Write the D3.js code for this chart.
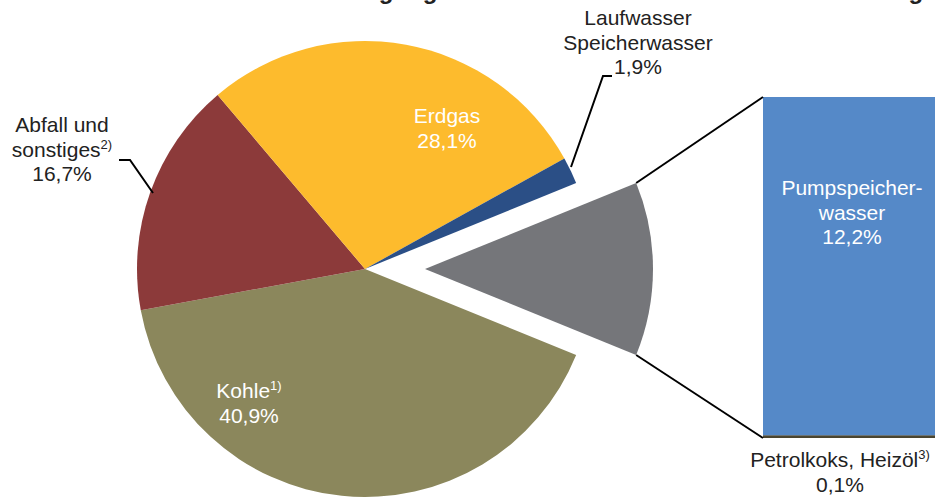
<!DOCTYPE html>
<html>
<head>
<meta charset="utf-8">
<script src="https://cdn.jsdelivr.net/npm/d3@7/dist/d3.min.js"></script>
<style>
  html, body { margin: 0; padding: 0; background: #fff; }
  svg { display: block; }
  text { font-family: "Liberation Sans", Arial, sans-serif; }
</style>
</head>
<body>
<svg id="chart" width="935" height="498"></svg>
<script>
// ---- data ----
const pieCategories = ["Pumpspeicherwasser / Petrolkoks, Heizöl", "Kohle", "Abfall und sonstiges", "Erdgas", "Laufwasser Speicherwasser"];
const pieValues = [12.3, 40.9, 16.7, 28.1, 1.9];
const pieColors = ["#75767a", "#8b875c", "#8c3a3a", "#fdbb2d", "#2b4f86"];
const barCategories = ["Petrolkoks, Heizöl", "Pumpspeicherwasser"];
const barValues = [0.1, 12.2];
const barColors = ["#4a4530", "#5589c8"];
const titleText = "Anteile an der Erzeugung der Kraftwerke mit über 100 MW Leistung";

// ---- layout ----
const svg = d3.select("#chart");
const cx = 365, cy = 269, R = 228, explode = 60;
const total = d3.sum(pieValues);
const grayAngle = pieValues[0] / total * 2 * Math.PI;
const start = Math.PI / 2 - grayAngle / 2;

const pie = d3.pie().sort(null).value(d => d).startAngle(start).endAngle(start + 2 * Math.PI);
const arcs = pie(pieValues);
const arc = d3.arc().innerRadius(0).outerRadius(R);

// title (mostly outside the view, as in the reference)
svg.append("text").attr("x", 145).attr("y", -1)
  .attr("font-size", 24).attr("font-weight", "bold").attr("fill", "#222")
  .attr("word-spacing", 1)
  .text(titleText);

const g = svg.append("g").attr("transform", `translate(${cx},${cy})`);
g.selectAll("path.slice").data(arcs).join("path")
  .attr("class", "slice")
  .attr("d", arc)
  .attr("fill", (d, i) => pieColors[i])
  .attr("transform", (d, i) => {
    if (i !== 0) return null;
    const mid = (d.startAngle + d.endAngle) / 2;
    return `translate(${explode * Math.sin(mid)},${-explode * Math.cos(mid)})`;
  });

// ---- bar ----
const barX = 763, barW = 178;
const y = d3.scaleLinear().domain([0, d3.sum(barValues)]).range([438, 97]);
let acc = 0;
const stacks = barValues.map(v => { const s = { y0: acc, y1: acc + v }; acc += v; return s; });
svg.selectAll("rect.bar").data(stacks).join("rect")
  .attr("class", "bar")
  .attr("x", barX).attr("width", barW)
  .attr("y", d => y(d.y1)).attr("height", d => y(d.y0) - y(d.y1))
  .attr("fill", (d, i) => barColors[i]);

// connectors from exploded slice to bar
const a0 = arcs[0];
const mid0 = (a0.startAngle + a0.endAngle) / 2;
const ox = cx + explode * Math.sin(mid0), oy = cy - explode * Math.cos(mid0);
const pTop = [ox + R * Math.sin(a0.startAngle), oy - R * Math.cos(a0.startAngle)];
const pBot = [ox + R * Math.sin(a0.endAngle), oy - R * Math.cos(a0.endAngle)];
svg.append("line").attr("x1", pTop[0]).attr("y1", pTop[1]).attr("x2", barX).attr("y2", y(d3.sum(barValues)))
  .attr("stroke", "#000").attr("stroke-width", 2);
svg.append("line").attr("x1", pBot[0]).attr("y1", pBot[1]).attr("x2", barX).attr("y2", y(0))
  .attr("stroke", "#000").attr("stroke-width", 2);

// leader lines
const leader = d3.line();
svg.append("path").attr("d", leader([[612, 76], [603, 76], [571, 167]]))
  .attr("fill", "none").attr("stroke", "#000").attr("stroke-width", 2);
svg.append("path").attr("d", leader([[119, 160], [130, 160], [153, 193]]))
  .attr("fill", "none").attr("stroke", "#000").attr("stroke-width", 2);

// ---- labels ----
function label(x, yy, lines, color) {
  const t = svg.append("text").attr("text-anchor", "middle").attr("font-size", 21).attr("fill", color);
  lines.forEach((ln, i) => {
    const ts = t.append("tspan").attr("x", x).attr("y", yy + i * 24.5);
    if (Array.isArray(ln)) {
      ts.text(ln[0]);
      ts.append("tspan").attr("font-size", 13).attr("dy", -8).text(ln[1]);
    } else {
      ts.text(ln);
    }
  });
}
const fmt = v => d3.format(".1f")(v).replace(".", ",") + "%";

label(638, 25, ["Laufwasser", "Speicherwasser", fmt(pieValues[4])], "#222");
label(62, 132, ["Abfall und", ["sonstiges", "2)"], fmt(pieValues[2])], "#222");
label(447, 123, ["Erdgas", fmt(pieValues[3])], "#fff");
label(249, 398, [["Kohle", "1)"], fmt(pieValues[1])], "#fff");
label(852, 195, ["Pumpspeicher-", "wasser", fmt(barValues[1])], "#fff");
label(840, 467, [["Petrolkoks, Heizöl", "3)"], fmt(barValues[0])], "#222");
</script>
</body>
</html>
